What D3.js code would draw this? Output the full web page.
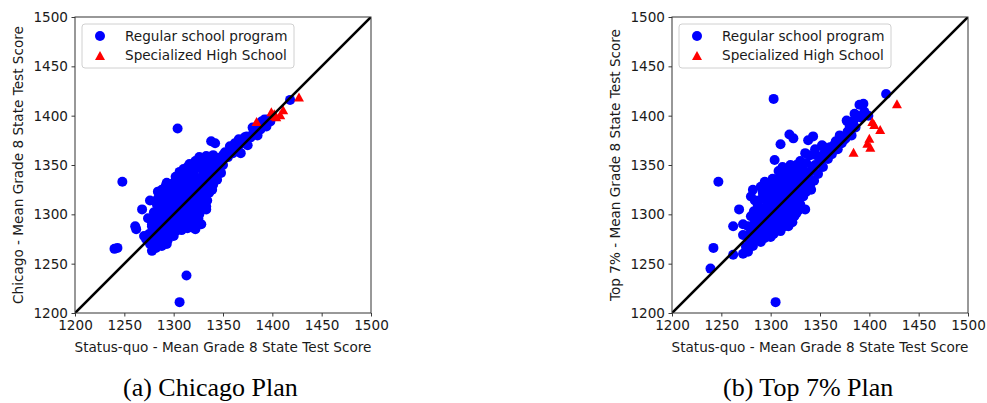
<!DOCTYPE html>
<html>
<head>
<meta charset="utf-8">
<script src="https://cdn.jsdelivr.net/npm/d3@7"></script>
<style>
  html, body { margin: 0; padding: 0; background: #fff; }
  svg { display: block; }
  .tick text { font-family: "DejaVu Sans", sans-serif; font-size: 13.6px; fill: #1a1a1a; }
  .axis-label { font-family: "DejaVu Sans", sans-serif; font-size: 13.6px; fill: #1a1a1a; }
  .legend-text { font-family: "DejaVu Sans", sans-serif; font-size: 13.6px; fill: #1a1a1a; }
  .caption { font-family: "Liberation Serif", "Times New Roman", serif; font-size: 26px; fill: #000; }
</style>
</head>
<body>
<svg id="chart" width="987" height="403"></svg>
<script>
// Axis ticks shared by both panels
const tickValues = [1200, 1250, 1300, 1350, 1400, 1450, 1500];
const axisDomain = [1200, 1500];

const legendLabels = ["Regular school program", "Specialized High School"];
const xAxisTitle = "Status-quo - Mean Grade 8 State Test Score";

// Chicago Plan: [status-quo score, plan score]
const chicagoRegular = [
  [1304,1387],[1248,1333],[1240,1265],[1243,1266],[1313,1238],[1306,1211],[1418,1416],
  [1268,1305],[1261,1288],[1262,1285],[1284,1323],[1338,1374],[1342,1372],[1270,1278],
  [1278,1290],[1274,1296],[1339,1325],[1333,1305],[1328,1290],[1322,1285],[1343,1338],
  [1276,1314],
  [1278,1263],[1282,1266],[1288,1268],[1293,1270],[1276,1270],[1284,1272],[1272,1275],[1290,1274],
  [1275,1280],[1280,1278],[1286,1279],[1292,1278],[1298,1280],[1302,1283],[1283,1285],[1290,1284],
  [1296,1287],[1305,1286],[1310,1289],[1318,1287],[1278,1288],[1285,1290],
  [1282,1293],[1289,1295],[1295,1292],[1300,1294],[1307,1293],[1313,1295],[1320,1292],[1325,1296],
  [1292,1299],[1302,1298],[1310,1300],[1318,1299],[1326,1300],[1286,1298],
  [1280,1302],[1288,1303],[1296,1304],[1304,1303],[1312,1305],[1320,1304],[1328,1306],[1333,1308],
  [1292,1308],[1300,1309],[1308,1308],[1316,1310],[1324,1310],[1283,1310],
  [1284,1316],[1290,1313],[1297,1316],[1305,1314],[1312,1317],[1320,1315],[1328,1318],[1334,1314],
  [1294,1320],[1302,1320],[1310,1321],[1318,1322],[1326,1323],[1336,1322],
  [1288,1325],[1296,1327],[1304,1326],[1312,1328],[1320,1327],[1330,1328],[1340,1330],[1300,1332],[1308,1333],
  [1293,1332],[1302,1338],[1310,1336],[1318,1334],[1326,1336],[1334,1333],[1344,1335],[1312,1342],[1320,1341],[1336,1340],
  [1306,1343],[1314,1348],[1322,1346],[1330,1344],[1340,1346],[1348,1342],[1316,1351],[1327,1355],[1338,1354],[1350,1350],
  [1326,1358],[1333,1359],[1345,1357],[1355,1358],[1352,1363],[1360,1362],[1357,1369],[1365,1366],[1368,1362],[1370,1372],
  [1375,1370],[1372,1378],[1340,1360],[1360,1369],
  [1378,1378],[1381,1384],[1385,1380],[1388,1386],[1383,1388],[1391,1391],[1394,1389],[1395,1396],[1398,1394],[1389,1394],
  [1374,1379],
  [1280,1270],[1286,1274],[1294,1274],[1300,1278],[1282,1282],[1289,1281],[1296,1283],[1308,1284],[1314,1286],
  [1304,1290],[1293,1289],[1281,1297],[1298,1296],[1306,1297],[1314,1300],[1322,1301],[1316,1291],[1294,1302],
  [1286,1306],[1300,1304],[1308,1303],[1316,1306],[1324,1304],[1296,1311],[1304,1312],[1312,1312],[1320,1311],
  [1330,1312],[1288,1320],[1298,1324],[1306,1322],[1314,1323],[1322,1319],[1332,1320],[1292,1329],[1300,1328],
  [1308,1329],[1316,1330],[1324,1331],[1332,1325],[1306,1338],[1314,1337],[1322,1338],[1330,1339],[1340,1337],
  [1310,1346],[1318,1343],[1326,1350],[1334,1348],[1344,1348],[1322,1354],[1332,1353],[1342,1352],[1348,1355],
  [1337,1358],[1350,1360],[1362,1372],[1366,1376],[1380,1388],[1386,1390],[1392,1396]
];
const chicagoSpecial = [
  [1384,1394],[1399,1404],[1400,1400],[1404,1399],[1408,1401],[1411,1406],[1427,1419],[1402,1402]
];

// Top 7% Plan: [status-quo score, plan score]
const top7Regular = [
  [1303,1417],[1247,1333],[1242,1266],[1239,1245],[1305,1211],[1417,1422],[1268,1305],
  [1262,1288],[1262,1259],[1272,1260],[1277,1262],[1310,1371],[1319,1381],[1323,1377],
  [1338,1375],[1343,1379],[1304,1355],[1326,1305],[1341,1325],[1272,1290],[1335,1305],
  [1282,1325],[1353,1369],
  [1275,1267],[1282,1268],[1290,1272],[1278,1274],[1286,1276],[1294,1276],[1300,1277],[1272,1279],
  [1280,1282],[1287,1284],[1294,1282],[1302,1284],[1310,1283],[1318,1288],[1283,1290],[1290,1291],
  [1298,1289],[1306,1290],[1314,1292],[1322,1292],[1277,1288],
  [1286,1297],[1293,1298],[1300,1296],[1308,1297],[1316,1299],[1324,1298],[1290,1304],[1297,1305],
  [1305,1303],[1313,1306],[1321,1305],[1328,1304],[1283,1303],[1300,1310],[1310,1311],[1318,1310],
  [1288,1314],[1295,1316],[1303,1315],[1311,1318],[1319,1316],[1327,1314],[1333,1318],[1292,1322],
  [1300,1323],[1308,1324],[1316,1322],[1324,1323],[1280,1318],[1340,1330],
  [1290,1328],[1298,1331],[1306,1330],[1314,1333],[1322,1331],[1330,1330],[1338,1327],[1302,1336],
  [1310,1339],[1318,1338],[1326,1336],[1334,1338],[1344,1334],
  [1308,1344],[1316,1346],[1324,1344],[1332,1347],[1340,1343],[1348,1341],[1320,1350],[1336,1352],[1345,1350],[1353,1348],
  [1330,1354],[1340,1360],[1350,1358],[1358,1356],[1345,1366],[1355,1364],[1362,1361],[1352,1370],[1360,1368],[1368,1366],[1335,1362],
  [1366,1374],[1372,1372],[1370,1380],[1376,1377],[1378,1384],[1382,1380],[1380,1390],[1386,1388],[1377,1395],[1385,1402],
  [1392,1398],[1395,1404],[1399,1400],[1390,1411],[1394,1412],
  [1280,1272],[1288,1279],[1296,1280],[1303,1280],[1284,1286],[1292,1287],[1300,1286],[1308,1287],[1314,1288],
  [1288,1294],[1296,1294],[1304,1293],[1312,1295],[1320,1295],[1280,1298],[1294,1301],[1302,1300],[1310,1302],
  [1318,1302],[1326,1301],[1287,1309],[1296,1309],[1305,1308],[1314,1309],[1322,1309],[1330,1310],[1284,1314],
  [1292,1317],[1300,1319],[1308,1319],[1316,1318],[1324,1317],[1332,1322],[1296,1325],[1304,1326],[1312,1327],
  [1320,1326],[1328,1326],[1336,1323],[1294,1333],[1306,1334],[1314,1341],[1322,1340],[1330,1341],[1338,1333],
  [1312,1348],[1326,1350],[1342,1348],[1350,1353],[1346,1360],[1356,1361],[1364,1370],[1374,1375],[1384,1395],
  [1388,1400],[1338,1340]
];
const top7Special = [
  [1384,1363],[1398,1372],[1400,1377],[1401,1368],[1403,1394],[1405,1391],[1411,1386],[1428,1412]
];

const panels = [
  { left: 75, regular: chicagoRegular, special: chicagoSpecial,
    yTitle: "Chicago - Mean Grade 8 State Test Score", yTitleX: 23,
    caption: "(a) Chicago Plan", captionX: 123 },
  { left: 672, regular: top7Regular, special: top7Special,
    yTitle: "Top 7% - Mean Grade 8 State Test Score", yTitleX: 620,
    caption: "(b) Top 7% Plan", captionX: 723 }
];

const plotTop = 17, plotSize = 296;
const markerR = 5;
const svg = d3.select("#chart");

function trianglePath(cx, cy, w, h) {
  return `M${cx},${cy - h / 2}L${cx + w / 2},${cy + h / 2}L${cx - w / 2},${cy + h / 2}Z`;
}

panels.forEach((p, i) => {
  const x = d3.scaleLinear().domain(axisDomain).range([p.left, p.left + plotSize]);
  const y = d3.scaleLinear().domain(axisDomain).range([plotTop + plotSize, plotTop]);

  const clipId = "clip" + i;
  svg.append("clipPath").attr("id", clipId)
    .append("rect").attr("x", p.left).attr("y", plotTop)
    .attr("width", plotSize).attr("height", plotSize);

  const plot = svg.append("g").attr("clip-path", `url(#${clipId})`);

  // regular schools
  plot.selectAll("circle.reg").data(p.regular).enter().append("circle")
    .attr("class", "reg")
    .attr("cx", d => x(d[0])).attr("cy", d => y(d[1]))
    .attr("r", markerR).attr("fill", "#0000ff");

  // specialized high schools
  plot.selectAll("path.spec").data(p.special).enter().append("path")
    .attr("class", "spec")
    .attr("d", d => trianglePath(x(d[0]), y(d[1]), 10, 9))
    .attr("fill", "#ff0000");

  // 45-degree reference line
  plot.append("line")
    .attr("x1", x(axisDomain[0])).attr("y1", y(axisDomain[0]))
    .attr("x2", x(axisDomain[1])).attr("y2", y(axisDomain[1]))
    .attr("stroke", "#000").attr("stroke-width", 2.6);

  // axes
  const xAxis = svg.append("g").attr("transform", `translate(0,${plotTop + plotSize})`)
    .call(d3.axisBottom(x).tickValues(tickValues).tickFormat(d3.format("d")).tickSize(3.5).tickPadding(3.5));
  const yAxis = svg.append("g").attr("transform", `translate(${p.left},0)`)
    .call(d3.axisLeft(y).tickValues(tickValues).tickFormat(d3.format("d")).tickSize(3.5).tickPadding(3.5));
  [xAxis, yAxis].forEach(a => {
    a.select(".domain").remove();
    a.selectAll(".tick line").attr("stroke", "#222").attr("stroke-width", 0.9);
  });

  // frame
  svg.append("rect").attr("x", p.left).attr("y", plotTop)
    .attr("width", plotSize).attr("height", plotSize)
    .attr("fill", "none").attr("stroke", "#333").attr("stroke-width", 1);

  // axis titles
  svg.append("text").attr("class", "axis-label")
    .attr("x", p.left + plotSize / 2).attr("y", 352)
    .attr("text-anchor", "middle").text(xAxisTitle);
  svg.append("text").attr("class", "axis-label")
    .attr("transform", `translate(${p.yTitleX},${plotTop + plotSize / 2}) rotate(-90)`)
    .attr("text-anchor", "middle").text(p.yTitle);

  // legend
  const lg = svg.append("g").attr("transform", `translate(${p.left + 7},${plotTop + 7})`);
  lg.append("rect").attr("x", 0).attr("y", 0).attr("width", 212).attr("height", 44)
    .attr("rx", 3).attr("fill", "#fff").attr("fill-opacity", 0.8)
    .attr("stroke", "#d0d0d0").attr("stroke-width", 1);
  lg.append("circle").attr("cx", 18).attr("cy", 12).attr("r", markerR).attr("fill", "#0000ff");
  lg.append("path").attr("d", trianglePath(18, 31.5, 10, 9)).attr("fill", "#ff0000");
  legendLabels.forEach((t, k) => {
    lg.append("text").attr("class", "legend-text")
      .attr("x", 43).attr("y", 12 + k * 19.5).attr("dy", "0.35em").text(t);
  });

  // caption
  svg.append("text").attr("class", "caption")
    .attr("x", p.captionX).attr("y", 396).text(p.caption);
});
</script>
</body>
</html>
